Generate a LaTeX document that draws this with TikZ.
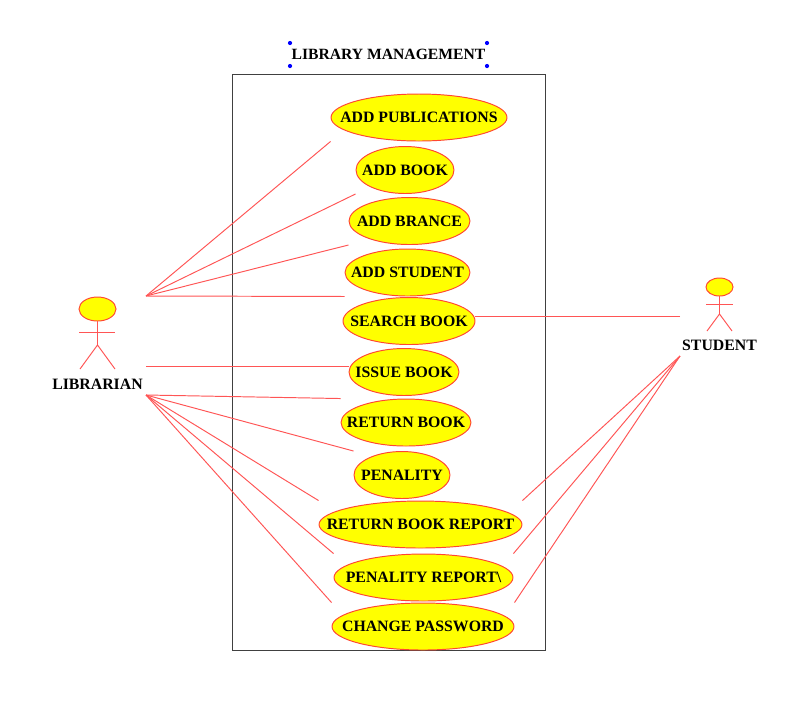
\documentclass[tikz,border=0pt]{standalone}
\usepackage{fontspec}
\setmainfont{Liberation Serif}
\usetikzlibrary{shapes,positioning}
\definecolor{linered}{RGB}{255,85,85}
\definecolor{rimred}{RGB}{255,70,50}
\definecolor{casefill}{RGB}{255,255,0}
\newcommand{\caselabel}[1]{\makebox[0pt]{#1}}
\tikzset{
    usecase/.style={draw=rimred, line width=0.55pt, fill=casefill, ellipse, inner sep=0pt, minimum height=0.94cm, font=\bfseries\fontsize{9}{11}\selectfont},
    assoc/.style={draw=linered, line width=0.55pt},
    actorlabel/.style={inner sep=0pt, font=\bfseries\fontsize{9}{11}\selectfont},
    handle/.style={fill=blue, circle, inner sep=0pt, minimum size=2.4pt}
}

\begin{document}
\begin{tikzpicture}[x=0.02cm, y=-0.02cm]
    \useasboundingbox (0,0) rectangle (800,701);

    \node[draw=black!75, line width=0.5pt, rectangle, inner sep=0pt, minimum width=6.26cm, minimum height=11.52cm] (system) at (388.5,362) {};
    \node[inner sep=0pt, font=\bfseries\fontsize{8.9}{11}\selectfont] (title) at (388.5,54) {LIBRARY MANAGEMENT};
    \node[handle] (handleA) at (290,43) {};
    \node[handle] (handleB) at (487,43) {};
    \node[handle] (handleC) at (290,66) {};
    \node[handle] (handleD) at (487,66) {};

    \node[usecase, minimum width=3.52cm] (publications) at (419,117.5) {\caselabel{ADD PUBLICATIONS}};
    \node[usecase, minimum width=1.96cm] (addbook) at (405,170) {\caselabel{ADD BOOK}};
    \node[usecase, minimum width=2.42cm] (brance) at (409.5,221) {\caselabel{ADD BRANCE}};
    \node[usecase, minimum width=2.5cm] (addstudent) at (407.5,272.5) {\caselabel{ADD STUDENT}};
    \node[usecase, minimum width=2.64cm] (search) at (409,321) {\caselabel{SEARCH BOOK}};
    \node[usecase, minimum width=2.2cm] (issue) at (404,372) {\caselabel{ISSUE BOOK}};
    \node[usecase, minimum width=2.6cm] (returnbook) at (406,422.5) {\caselabel{RETURN BOOK}};
    \node[usecase, minimum width=1.92cm] (penality) at (402,475) {\caselabel{PENALITY}};
    \node[usecase, minimum width=4.06cm] (returnreport) at (420.5,524.5) {\caselabel{RETURN BOOK REPORT}};
    \node[usecase, minimum width=3.58cm] (penalityreport) at (423.5,577.5) {\caselabel{PENALITY REPORT\textbackslash}};
    \node[usecase, minimum width=3.64cm] (password) at (423,626.5) {\caselabel{CHANGE PASSWORD}};

    % librarian
    \node[usecase, minimum width=0.74cm, minimum height=0.48cm] (libhead) at (97.5,309) {};
    \coordinate (libhip) at (97.5,345);
    \coordinate (libarmL) at (79,332);
    \coordinate (libarmR) at (115,332);
    \coordinate (libfootL) at (80,369);
    \coordinate (libfootR) at (115,369);
    \draw[assoc] (libhead) -- (libhip);
    \draw[assoc] (libarmL) -- (libarmR);
    \draw[assoc] (libfootL) -- (libhip) -- (libfootR);
    \node[actorlabel] (librarian) at (97.5,384) {LIBRARIAN};

    % student
    \node[usecase, minimum width=0.54cm, minimum height=0.36cm] (stuhead) at (719.5,287) {};
    \coordinate (stuhip) at (719.5,314);
    \coordinate (stuarmL) at (706,304);
    \coordinate (stuarmR) at (733,304);
    \coordinate (stufootL) at (707,331);
    \coordinate (stufootR) at (732,331);
    \draw[assoc] (stuhead) -- (stuhip);
    \draw[assoc] (stuarmL) -- (stuarmR);
    \draw[assoc] (stufootL) -- (stuhip) -- (stufootR);
    \node[actorlabel] (student) at (719.5,345) {STUDENT};

    \coordinate (libtop) at (146,296);
    \coordinate (libmid) at (146,366);
    \coordinate (liblow) at (146,395);
    \coordinate (stutop) at (680,316);
    \coordinate (stulow) at (680,356);

    \draw[assoc] (libtop) -- (publications.west |- publications.south);
    \draw[assoc] (libtop) -- (addbook.west |- addbook.south);
    \draw[assoc] (libtop) -- (brance.west |- brance.south);
    \draw[assoc] (libtop) -- (addstudent.west |- addstudent.south);
    \draw[assoc] (libmid) -- (issue.west |- libmid);
    \draw[assoc] (liblow) -- (returnbook.west |- returnbook.north);
    \draw[assoc] (liblow) -- (penality.west |- penality.north);
    \draw[assoc] (liblow) -- (returnreport.west |- returnreport.north);
    \draw[assoc] (liblow) -- (penalityreport.west |- penalityreport.north);
    \draw[assoc] (liblow) -- (password.west |- password.north);

    \draw[assoc] (stutop) -- (search.east |- stutop);
    \draw[assoc] (stulow) -- (returnreport.east |- returnreport.north);
    \draw[assoc] (stulow) -- (penalityreport.east |- penalityreport.north);
    \draw[assoc] (stulow) -- (password.east |- password.north);
\end{tikzpicture}
\end{document}
